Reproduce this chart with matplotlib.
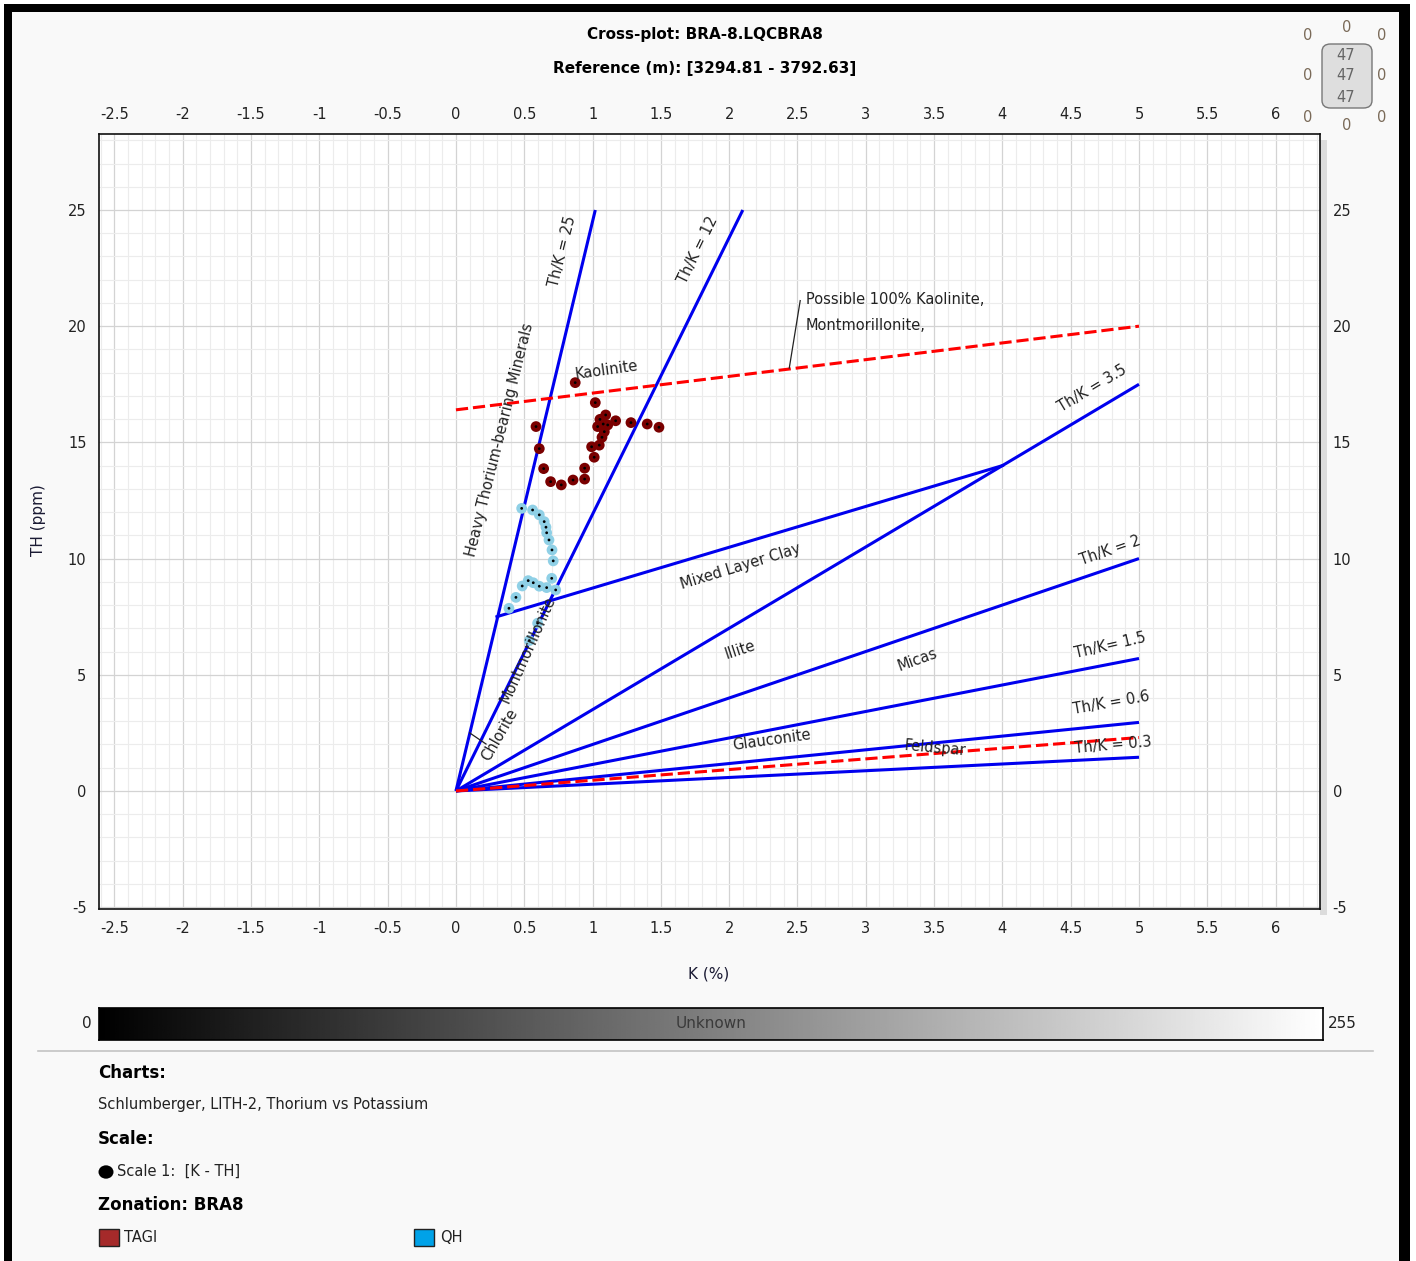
import numpy as np
import matplotlib
matplotlib.use("Agg")
import matplotlib.pyplot as plt
from matplotlib.patches import Rectangle, FancyBboxPatch, Circle
from matplotlib.ticker import MultipleLocator, FormatStrFormatter

plt.rcParams['font.family'] = ['DejaVu Sans']

# ---- data ----
title_1 = "Cross-plot: BRA-8.LQCBRA8"
title_2 = "Reference (m): [3294.81 - 3792.63]"

# Th/K ratio lines, drawn from the origin to these end points
ratio_labels = ["Th/K = 25", "Th/K = 12", "Th/K = 3.5", "Th/K = 2",
                "Th/K= 1.5", "Th/K = 0.6", "Th/K = 0.3"]
ratio_end_k = [1.02, 2.1, 5.0, 5.0, 5.0, 5.0, 5.0]
ratio_end_th = [25.0, 25.0, 17.5, 10.0, 5.7, 2.95, 1.45]

# mixed layer clay segment
mlc_k = [0.3, 4.0]
mlc_th = [7.5, 14.0]

# red dashed lines
kaol_k = [0.0, 5.0]
kaol_th = [16.4, 20.0]
feld_k = [0.0, 5.0]
feld_th = [0.0, 2.3]

# zone TAGI
tagi_k = [0.873, 1.020, 0.586, 1.037, 1.054, 1.096, 1.111, 1.169, 1.078, 1.086,
          1.069, 1.049, 0.993, 1.012, 1.281, 1.400, 1.486, 0.610, 0.642, 0.693,
          0.771, 0.857, 0.942, 0.942]
tagi_th = [17.57, 16.71, 15.68, 15.68, 15.99, 16.18, 15.75, 15.93, 15.79, 15.46,
           15.22, 14.88, 14.81, 14.36, 15.85, 15.79, 15.65, 14.73, 13.87, 13.31,
           13.17, 13.38, 13.89, 13.42]

# zone QH
qh_k = [0.481, 0.561, 0.610, 0.646, 0.659, 0.664, 0.681, 0.703, 0.712, 0.701,
        0.730, 0.664, 0.610, 0.566, 0.529, 0.485, 0.439, 0.388, 0.598, 0.537]
qh_th = [12.16, 12.09, 11.88, 11.59, 11.35, 11.11, 10.80, 10.37, 9.90, 9.15,
         8.65, 8.75, 8.81, 8.96, 9.05, 8.82, 8.33, 7.86, 7.22, 6.47]

# chart annotations: text, k, th, rotation
note_text = ["Th/K = 25", "Th/K = 12", "Heavy Thorium-bearing Minerals", "Kaolinite",
             "Th/K = 3.5", "Mixed Layer Clay", "Th/K = 2", "Illite", "Micas",
             "Th/K= 1.5", "Th/K = 0.6", "Glauconite", "Feldspar", "Th/K = 0.3",
             "Chlorite", "Montmorillonite"]
note_k = [0.78, 1.77, 0.32, 1.105, 4.66, 2.08, 4.79, 2.08, 3.38, 4.79, 4.80, 2.31,
          3.51, 4.81, 0.32, 0.53]
note_th = [23.2, 23.3, 15.1, 18.12, 17.34, 9.64, 10.33, 6.07, 5.64, 6.28, 3.79,
           2.19, 1.85, 1.98, 2.41, 6.07]
note_rot = [76, 64, 76, 8, 31, 17, 19, 18, 20, 13, 10, 8, -5, 5, 60, 66]

W, H = 1416, 1261
fig = plt.figure(figsize=(W / 100, H / 100), dpi=100, facecolor='white')


def fx(px):
    return px / W


def fy(py):
    return 1 - py / H


# panel background and black frame
fig.patches.append(Rectangle((fx(12), 0), fx(1399) - fx(12), fy(12), transform=fig.transFigure,
                             facecolor='#f9f9f9', edgecolor='none', zorder=-2))
for x0, y0, x1, y1 in [(4, 4, 12, 1261), (4, 4, 1410, 12), (1399, 4, 1410, 1261)]:
    fig.patches.append(Rectangle((fx(x0), fy(y1)), fx(x1) - fx(x0), fy(y0) - fy(y1),
                                 transform=fig.transFigure, facecolor='black',
                                 edgecolor='none', zorder=-1))
# shadow on the right of the plot
fig.patches.append(Rectangle((fx(1320), fy(915)), fx(7), fy(140) - fy(915), transform=fig.transFigure,
                             facecolor='#dcdcdc', edgecolor='none', zorder=-1))

fig.text(fx(705), fy(35), title_1, ha='center', va='center', fontsize=11, fontweight='bold')
fig.text(fx(705), fy(68), title_2, ha='center', va='center', fontsize=11, fontweight='bold')

# ---- main cross-plot ----
ax = fig.add_axes([fx(99), fy(909), fx(1320) - fx(99), fy(134) - fy(909)])
ax.set_zorder(2)
ax.set_facecolor('white')
ax.set_xlim(-2.613, 6.325)
ax.set_ylim(-5.08, 28.27)
ax.xaxis.set_major_locator(MultipleLocator(0.5))
ax.xaxis.set_minor_locator(MultipleLocator(0.1))
ax.yaxis.set_major_locator(MultipleLocator(5))
ax.yaxis.set_minor_locator(MultipleLocator(1))
ax.xaxis.set_major_formatter(FormatStrFormatter('%g'))
ax.yaxis.set_major_formatter(FormatStrFormatter('%g'))
ax.grid(which='minor', color='#ececec', linewidth=0.8, zorder=0)
ax.grid(which='major', color='#d3d3d3', linewidth=0.9, zorder=0)
ax.set_axisbelow(True)
ax.tick_params(which='both', length=0, top=True, right=True, labeltop=True,
               labelright=True, labelsize=10.5, colors='#222222')
ax.tick_params(axis='x', pad=8.5)
ax.tick_params(axis='y', pad=9)
for s in ax.spines.values():
    s.set_color('#111111')
    s.set_linewidth(1.2)

for ek, et in zip(ratio_end_k, ratio_end_th):
    ax.plot([0, ek], [0, et], color='#0000ee', lw=2.2, zorder=3, solid_capstyle='butt')
ax.plot(mlc_k, mlc_th, color='#0000ee', lw=2.2, zorder=3)
ax.plot(kaol_k, kaol_th, color='#ff0000', lw=2.2, dashes=(4, 1.6), zorder=4)
ax.plot(feld_k, feld_th, color='#ff0000', lw=2.2, dashes=(4, 1.6), zorder=4)

# leader lines
ax.plot([2.52, 2.44], [21.1, 18.2], color='#222222', lw=0.9, zorder=4)
ax.plot([0.1, 0.22], [2.5, 2.02], color='#222222', lw=0.9, zorder=4)

ax.scatter(tagi_k, tagi_th, s=60, color='#7a0000', edgecolors='none', zorder=5)
ax.scatter(tagi_k, tagi_th, s=4, color='black', edgecolors='none', zorder=6)
ax.scatter(qh_k, qh_th, s=60, color='#8fd0e6', edgecolors='none', zorder=5)
ax.scatter(qh_k, qh_th, s=4, color='black', edgecolors='none', zorder=6)

for t, k, th, r in zip(note_text, note_k, note_th, note_rot):
    ax.text(k, th, t, rotation=r, rotation_mode='anchor', ha='center', va='center',
            fontsize=10.5, color='#222222', zorder=7)
ax.text(2.56, 21.13, "Possible 100% Kaolinite,", ha='left', va='center', fontsize=10.5,
        color='#222222', zorder=7)
ax.text(2.56, 20.05, "Montmorillonite,", ha='left', va='center', fontsize=10.5,
        color='#222222', zorder=7)

fig.text(fx(38), fy(520), "TH (ppm)", rotation=90, ha='center', va='center', fontsize=11,
         color='#1a1a33')
fig.text(fx(709), fy(974), "K (%)", ha='center', va='center', fontsize=11, color='#1a1a33')

# ---- grey scale bar ----
cax = fig.add_axes([fx(99), fy(1040), fx(1323) - fx(99), fy(1008) - fy(1040)])
cax.set_zorder(2)
cax.imshow(np.linspace(0, 1, 512).reshape(1, -1), cmap='gray', aspect='auto',
           extent=[0, 255, 0, 1])
cax.set_xticks([])
cax.set_yticks([])
for s in cax.spines.values():
    s.set_color('black')
    s.set_linewidth(1.2)
cax.text(0.5, 0.5, "Unknown", transform=cax.transAxes, ha='center', va='center',
         fontsize=11, color='#3a3a3a')
fig.text(fx(92), fy(1024), "0", ha='right', va='center', fontsize=11, color='#222222')
fig.text(fx(1328), fy(1024), "255", ha='left', va='center', fontsize=11, color='#222222')
fig.lines.append(plt.Line2D([fx(38), fx(1373)], [fy(1051), fy(1051)], transform=fig.transFigure,
                            color='#c4c4c4', lw=1.2))

# ---- legend text ----
fig.text(fx(98), fy(1073), "Charts:", ha='left', va='center', fontsize=12, fontweight='bold')
fig.text(fx(98), fy(1105), "Schlumberger, LITH-2, Thorium vs Potassium", ha='left', va='center',
         fontsize=10.5, color='#222222')
fig.text(fx(98), fy(1139), "Scale:", ha='left', va='center', fontsize=12, fontweight='bold')
fig.patches.append(Circle((fx(106), fy(1172)), 7.5 / W, transform=fig.transFigure,
                          facecolor='black', edgecolor='none'))
fig.text(fx(117), fy(1171), "Scale 1:  [K - TH]", ha='left', va='center', fontsize=10.5,
         color='#222222')
fig.text(fx(98), fy(1205), "Zonation: BRA8", ha='left', va='center', fontsize=12, fontweight='bold')
fig.patches.append(Rectangle((fx(99), fy(1246)), fx(20), fy(1229) - fy(1246), transform=fig.transFigure,
                             facecolor='#a52a2a', edgecolor='#222222', lw=1))
fig.text(fx(124), fy(1237), "TAGI", ha='left', va='center', fontsize=10.5, color='#222222')
fig.patches.append(Rectangle((fx(414), fy(1246)), fx(20), fy(1229) - fy(1246), transform=fig.transFigure,
                             facecolor='#00a2e8', edgecolor='#222222', lw=1))
fig.text(fx(440), fy(1237), "QH", ha='left', va='center', fontsize=10.5, color='#222222')

# ---- navigation widget (top right) ----
fig.patches.append(FancyBboxPatch((fx(1322), fy(108)), fx(50), fy(44) - fy(108),
                                  boxstyle="round,pad=0,rounding_size=0.006",
                                  transform=fig.transFigure, facecolor='#dedede',
                                  edgecolor='#777777', lw=1))
for py in [55, 76, 97]:
    fig.text(fx(1346), fy(py), "47", ha='center', va='center', fontsize=10.5, color='#666666')
for px, py in [(1347, 27), (1308, 35), (1382, 35), (1308, 76), (1382, 76),
               (1308, 117), (1347, 125), (1382, 117)]:
    fig.text(fx(px), fy(py), "0", ha='center', va='center', fontsize=10.5, color='#7a6a58')

fig.savefig("out.png", dpi=100, facecolor=fig.get_facecolor())
